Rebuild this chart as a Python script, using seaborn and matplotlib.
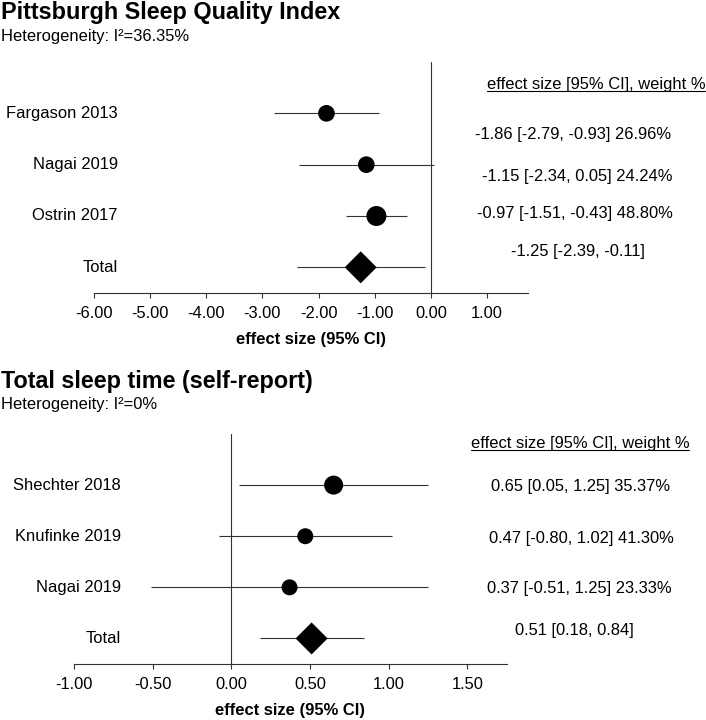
import numpy as np
import pandas as pd
import seaborn as sns
import matplotlib.pyplot as plt
import matplotlib.ticker as mtick
from matplotlib.transforms import blended_transform_factory
from matplotlib.lines import Line2D

# Pittsburgh Sleep Quality Index
psqi_study = ['Fargason 2013', 'Nagai 2019', 'Ostrin 2017', 'Total']
psqi_es = [-1.86, -1.15, -0.97, -1.25]
psqi_lo = [-2.79, -2.34, -1.51, -2.39]
psqi_hi = [-0.93, 0.05, -0.43, -0.11]
psqi_text = ['-1.86 [-2.79, -0.93] 26.96%', '-1.15 [-2.34, 0.05] 24.24%',
             '-0.97 [-1.51, -0.43] 48.80%', '-1.25 [-2.39, -0.11]']
psqi_ticks = [-6, -5, -4, -3, -2, -1, 0, 1]

# Total sleep time (self-report)
tst_study = ['Shechter 2018', 'Knufinke 2019', 'Nagai 2019', 'Total']
tst_es = [0.65, 0.47, 0.37, 0.51]
tst_lo = [0.05, -0.08, -0.51, 0.18]
tst_hi = [1.25, 1.02, 1.25, 0.84]
tst_text = ['0.65 [0.05, 1.25] 35.37%', '0.47 [-0.80, 1.02] 41.30%',
            '0.37 [-0.51, 1.25] 23.33%', '0.51 [0.18, 0.84]']
tst_ticks = [-1.0, -0.5, 0.0, 0.5, 1.0, 1.5]

sns.set_theme(style='white')
plt.rcParams['font.family'] = ['Liberation Sans', 'DejaVu Sans']
plt.rcParams['axes.unicode_minus'] = False
plt.rcParams['text.color'] = 'black'
plt.rcParams['axes.labelcolor'] = 'black'

W, H = 706, 720
FS = 11.9
LINE = '#333333'

fig = plt.figure(figsize=(W / 100, H / 100), dpi=100)


def fx(px):
    return px / W


def fy(px):
    return 1 - px / H


def forest(rect, study, es, lo, hi, text, ticks, xlim, dot_pt, label_x, text_x, text_dy,
           head_x, head_base):
    ax = fig.add_axes(rect)
    df = pd.DataFrame({'study': study, 'es': es, 'lo': lo, 'hi': hi})
    df['row'] = np.arange(len(df))
    studies = df.iloc[:-1]
    total = df.iloc[-1:]

    ax.axvline(0, color=LINE, lw=0.8, zorder=1)
    ax.hlines(df['row'], df['lo'], df['hi'], color=LINE, lw=0.8, zorder=2)
    sns.scatterplot(data=studies, x='es', y='row', size='study',
                    sizes=dict(zip(studies['study'], [d ** 2 for d in dot_pt])),
                    color='black', edgecolor='none', legend=False, ax=ax, zorder=3)
    sns.scatterplot(data=total, x='es', y='row', marker='D', s=16.3 ** 2,
                    color='black', edgecolor='none', legend=False, ax=ax, zorder=3)

    ax.set_xlim(*xlim)
    ax.set_ylim(3.5, -1.0)
    ax.set_xticks(ticks)
    ax.xaxis.set_major_formatter(mtick.StrMethodFormatter('{x:.2f}'))
    ax.set_yticks([])
    ax.set_ylabel('')
    ax.set_xlabel('effect size (95% CI)', fontsize=FS, fontweight='bold', labelpad=8)
    for s in ['left', 'right', 'top']:
        ax.spines[s].set_visible(False)
    ax.spines['bottom'].set_color(LINE)
    ax.spines['bottom'].set_linewidth(0.8)
    ax.tick_params(axis='x', bottom=True, direction='out', length=3.6, width=0.8,
                   color=LINE, labelsize=FS, labelcolor='black', pad=5.5)

    tr = blended_transform_factory(fig.transFigure, ax.transData)
    for i, name in enumerate(study):
        ax.text(fx(label_x), i, name, transform=tr, ha='right', va='center',
                fontsize=FS, color='black')
        ax.text(fx(text_x[i]), i + text_dy[i], text[i], transform=tr, ha='center',
                va='center', fontsize=FS, color='black')

    fig.text(fx(head_x), fy(head_base), 'effect size [95% CI], weight %',
             ha='center', va='baseline', fontsize=FS, color='black')
    return ax


forest([fx(94), fy(293), fx(528) - fx(94), (293 - 62) / H],
       psqi_study, psqi_es, psqi_lo, psqi_hi, psqi_text, psqi_ticks, (-6, 1.73),
       [12.0, 12.0, 14.4], 118, [573.5, 577, 575, 578], [0.42, 0.24, -0.05, -0.30],
       596, 89)

forest([fx(74), fy(664), fx(506.7) - fx(74), (664 - 434) / H],
       tst_study, tst_es, tst_lo, tst_hi, tst_text, tst_ticks, (-1, 1.75),
       [13.7, 11.5, 11.5], 121, [581, 581, 579, 574], [0.03, 0.04, 0.02, -0.16],
       580, 448)

fig.text(fx(1), fy(19), 'Pittsburgh Sleep Quality Index', fontsize=16.8,
         fontweight='bold', va='baseline', ha='left')
fig.text(fx(1), fy(40.7), 'Heterogeneity: I²=36.35%', fontsize=FS, va='baseline', ha='left')
fig.text(fx(1), fy(388.3), 'Total sleep time (self-report)', fontsize=16.8,
         fontweight='bold', va='baseline', ha='left')
fig.text(fx(1), fy(409.3), 'Heterogeneity: I²=0%', fontsize=FS, va='baseline', ha='left')

# underline the column headers
fig.canvas.draw()
for t in list(fig.texts):
    if t.get_text().startswith('effect size ['):
        bb = t.get_window_extent()
        x0, x1 = bb.x0 / W, bb.x1 / W
        base = t.get_position()[1] - 2.0 / H
        fig.add_artist(Line2D([x0, x1], [base, base], transform=fig.transFigure,
                              color='black', lw=0.8))

fig.savefig('out.png', dpi=100)
